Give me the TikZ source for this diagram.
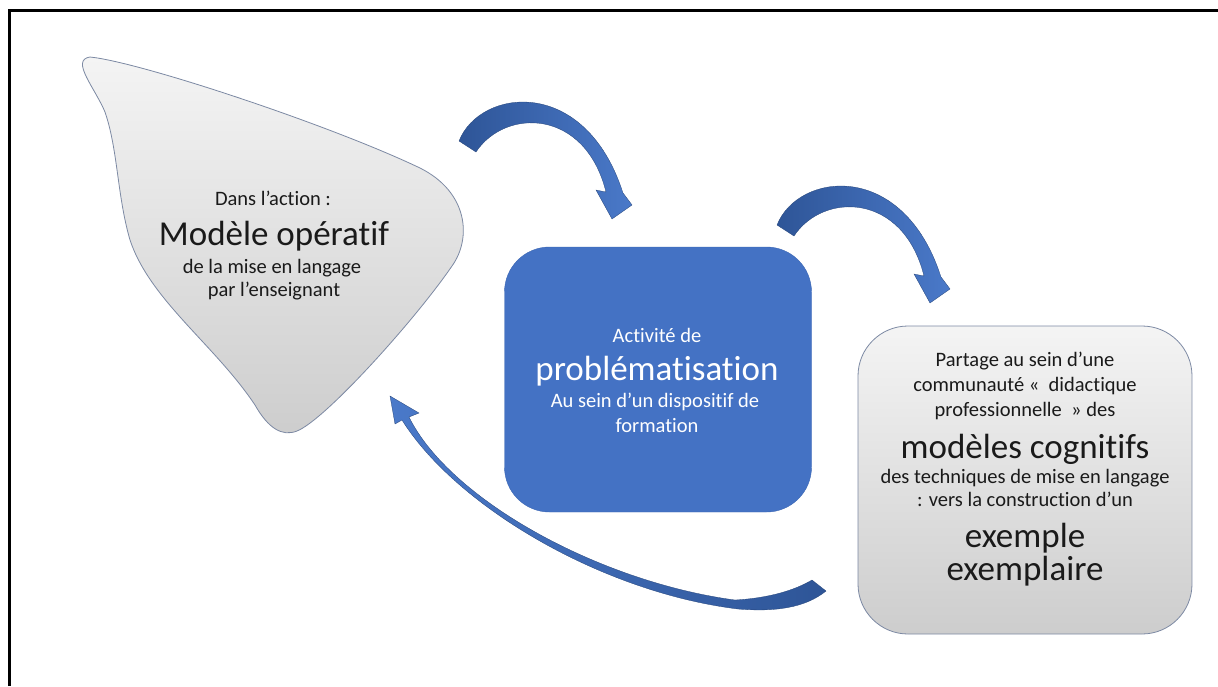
\documentclass[tikz,border=0pt]{standalone}
\usepackage{fontspec}
\setmainfont{Carlito}[Ligatures={NoCommon}]
\definecolor{boxblue}{HTML}{4472C4}
\definecolor{boxedge}{HTML}{3B66B3}
\definecolor{arrowdark}{HTML}{2E5597}
\definecolor{arrowlight}{HTML}{4A79C9}
\definecolor{edgegray}{HTML}{7C89A3}
\definecolor{txt}{HTML}{1A1A1A}
\definecolor{graytop}{HTML}{F4F4F4}
\definecolor{graybot}{HTML}{CDCDCD}
\begin{document}
\begin{tikzpicture}[x=1pt,y=-1pt,
  smalltxt/.style={font=\fontsize{20.5}{24}\selectfont, anchor=base, inner sep=0pt, text=txt},
  bigtxt/.style={font=\fontsize{35}{40}\selectfont, anchor=base, inner sep=0pt, text=txt},
  smallw/.style={smalltxt, text=white},
  bigw/.style={bigtxt, text=white},
  grayshape/.style={top color=graytop, bottom color=graybot, draw=edgegray, line width=0.8pt},
  blockarrow/.style={left color=arrowdark, right color=arrowlight, draw=arrowdark!80!black, line width=0.3pt},
  frameline/.style={line width=3pt, black}]
\useasboundingbox (0,0) rectangle (1218,686);
% frame
\coordinate (fl) at (9,686);
\coordinate (fc) at (9,10);
\coordinate (fr) at (1218,10);
\draw[frameline] (fl) -- (fc) -- (fr);

% left blob
\path[grayshape] (90,57) .. controls (140,62) and (330,125) .. (420,168)
  .. controls (468,192) and (472,238) .. (452,266)
  .. controls (415,320) and (325,420) .. (297,431)
  .. controls (282,437) and (268,428) .. (255,405)
  .. controls (215,345) and (150,300) .. (130,240)
  .. controls (117,195) and (118,150) .. (105,112)
  .. controls (95,88) and (70,60) .. (90,57) -- cycle;
\node[smalltxt] (dans) at (273,205) {Dans l’action :};
\node[bigtxt] (modop) at (274,245) {Modèle opératif};
\node[smalltxt] (mise) at (272,273) {de la mise en langage};
\node[smalltxt] (ens) at (274,296) {par l’enseignant};

% center box
\node[fill=boxblue, draw=boxedge, rounded corners=45pt, minimum width=307pt, minimum height=265pt, inner sep=0pt] (prob) at (658,379.5) {};
\node[smallw] (act) at (657,342) {Activité de};
\node[bigw] (probw) at (657,380) {problématisation};
\node[smallw] (sein) at (655,407) {Au sein d’un dispositif de};
\node[smallw] (form) at (657,432) {formation};

% right box
\node[grayshape, rounded corners=50pt, minimum width=334pt, minimum height=308pt, inner sep=0pt] (part) at (1025,480) {};
\node[smalltxt] (p1) at (1025,366) {Partage au sein d’une};
\node[smalltxt] (p2) at (1025,391) {communauté «~ didactique};
\node[smalltxt] (p3) at (1025,416) {professionnelle ~» des};
\node[bigtxt] (p4) at (1025,458) {modèles cognitifs};
\node[smalltxt] (p5) at (1025,483) {des techniques de mise en langage};
\node[smalltxt] (p6) at (1025,506) {: vers la construction d’un};
\node[bigtxt] (p7) at (1025,547) {exemple};
\node[bigtxt] (p8) at (1025,580) {exemplaire};

% curved arrow 1 (blob -> center box)
\path[blockarrow] (459,141) .. controls (480,88) and (585,75) .. (623,193)
  -- (632,205) -- (612,219) -- (596,190) -- (606,192)
  .. controls (585,108) and (505,108) .. (476,152) -- cycle;
% curved arrow 2 (center box -> right box)
\begin{scope}[shift={(318,84)}]
\path[blockarrow] (459,141) .. controls (480,88) and (585,75) .. (623,193)
  -- (632,205) -- (612,219) -- (596,190) -- (606,192)
  .. controls (585,108) and (505,108) .. (476,152) -- cycle;
\end{scope}
% bottom return arrow (right box -> blob)
\path[left color=arrowlight, right color=arrowdark, draw=arrowdark!80!black, line width=0.3pt]
  (409,417) .. controls (450,500) and (600,582) .. (735,600)
  .. controls (770,598) and (795,590) .. (812,580)
  -- (826,591)
  .. controls (805,608) and (775,612) .. (738,609)
  .. controls (600,592) and (455,505) .. (402,420)
  -- (395,424) -- (390,396) -- (419,413) -- cycle;
\end{tikzpicture}
\end{document}
